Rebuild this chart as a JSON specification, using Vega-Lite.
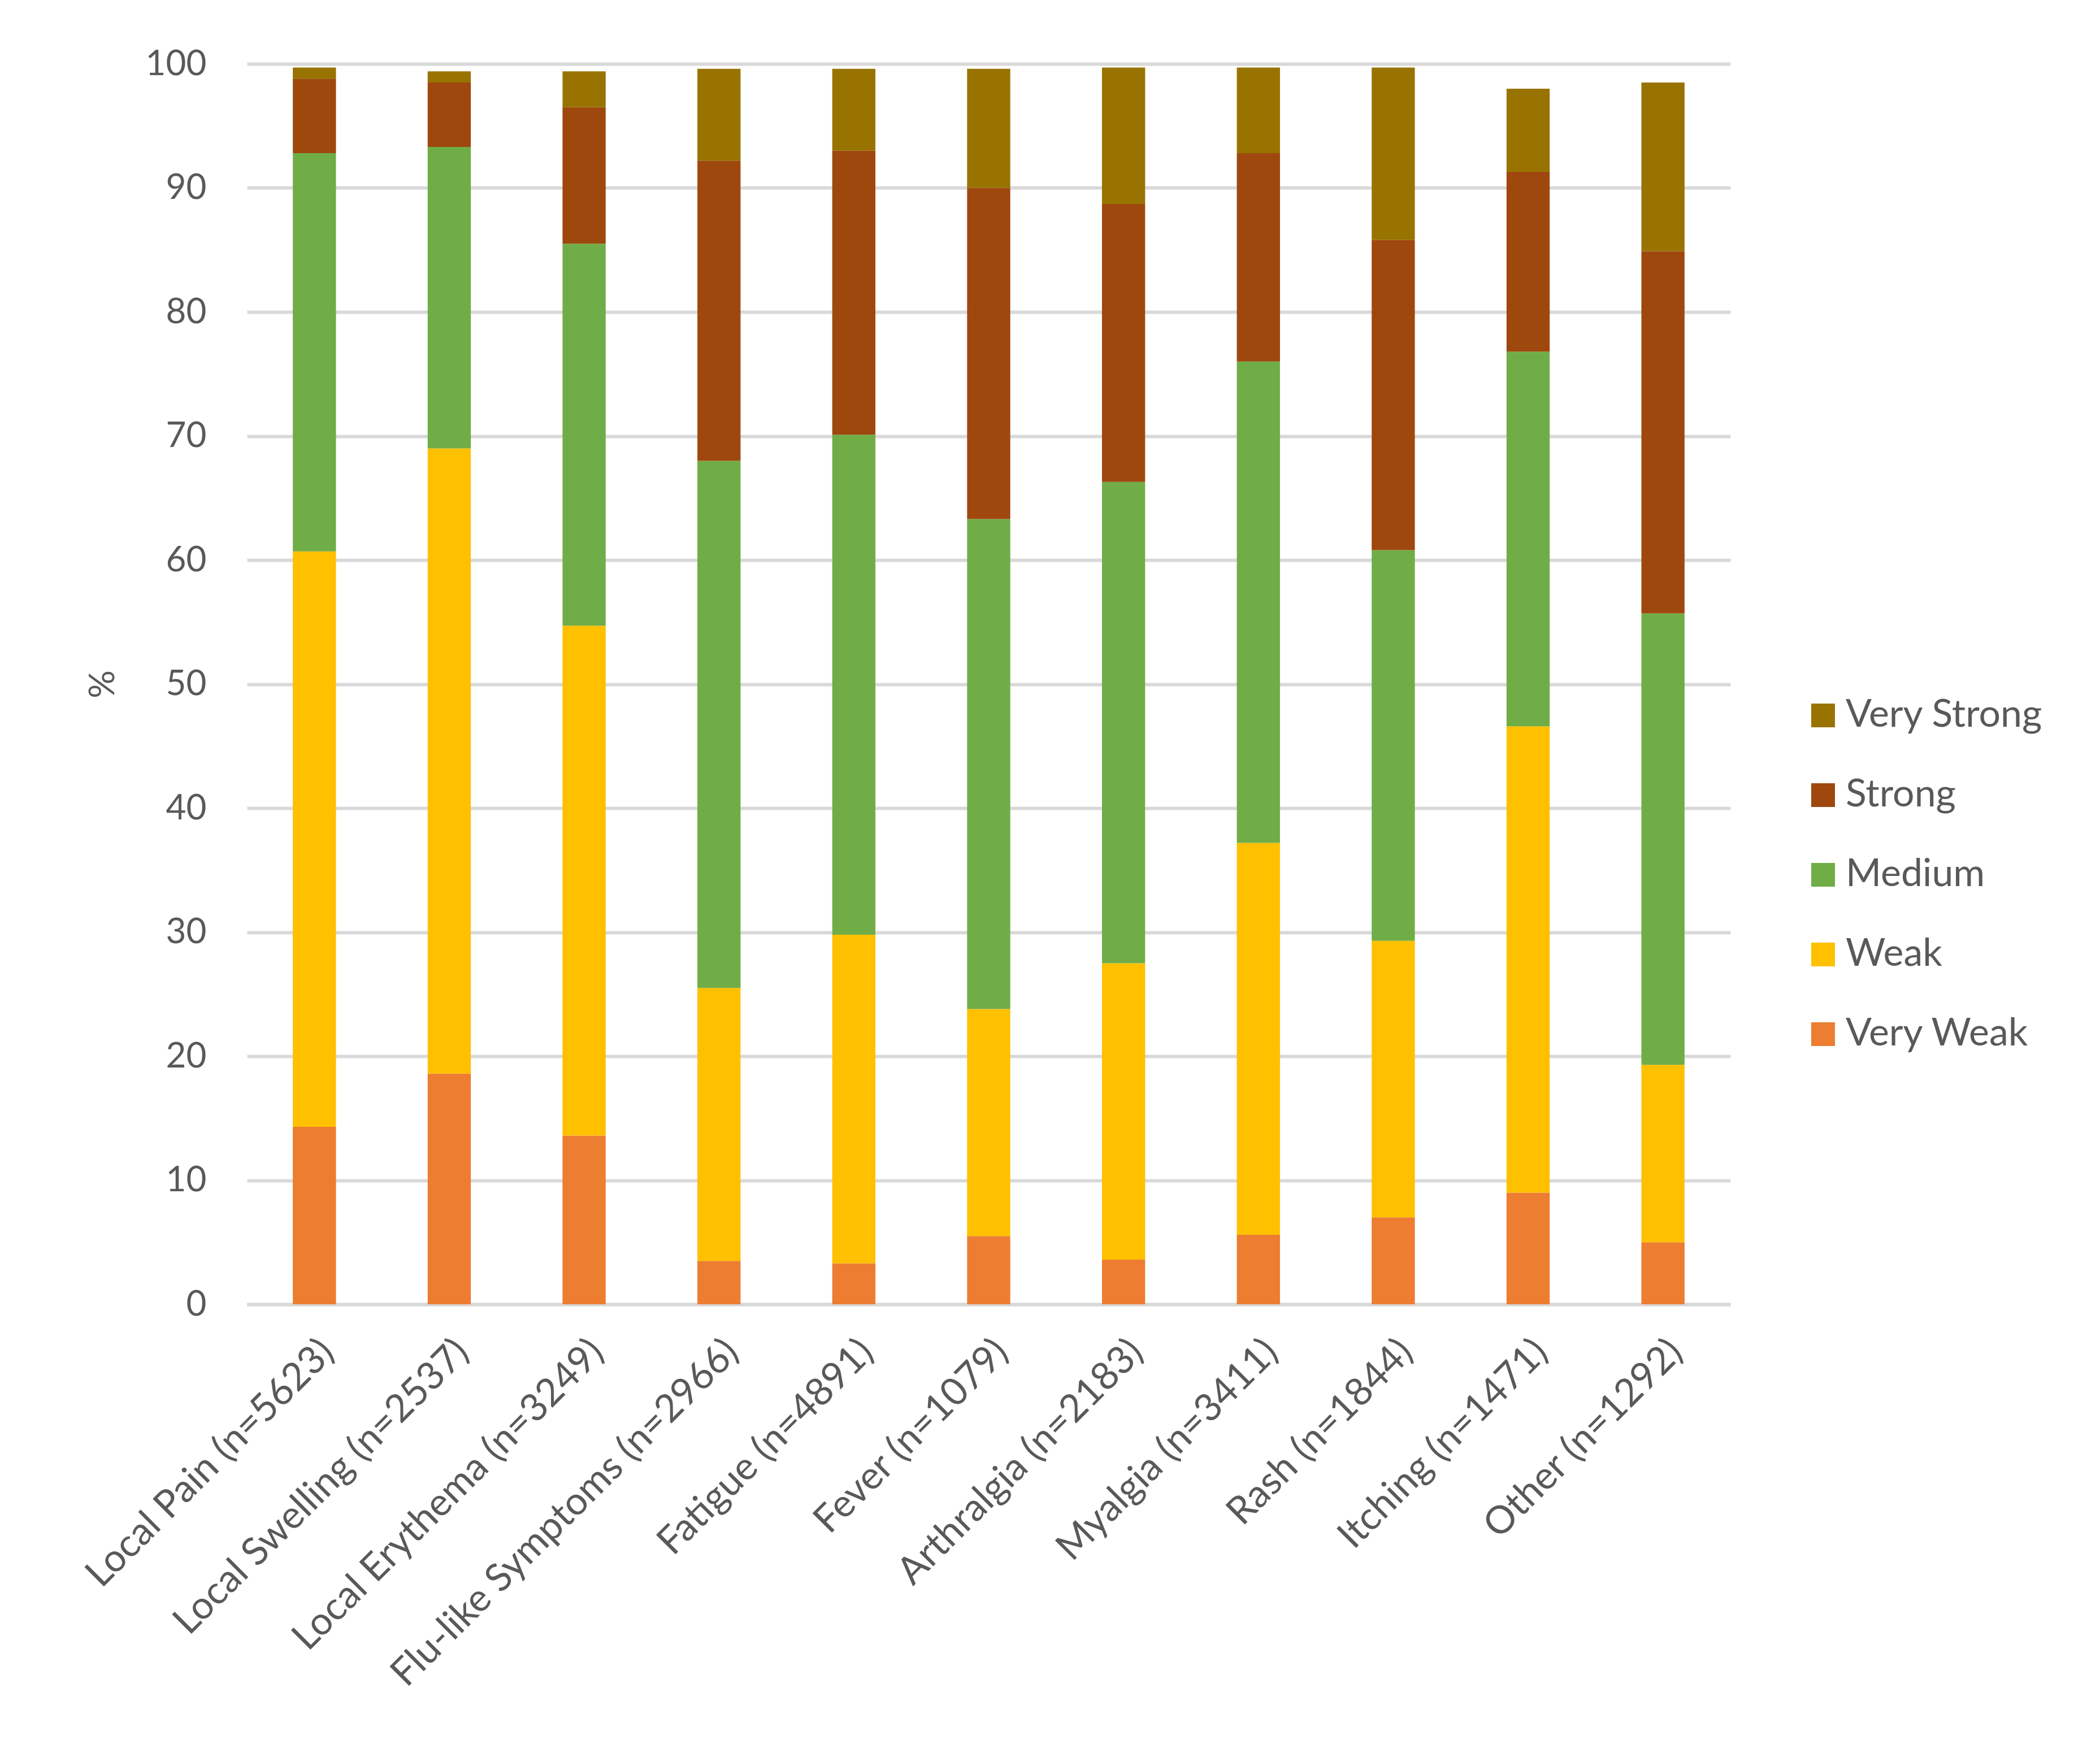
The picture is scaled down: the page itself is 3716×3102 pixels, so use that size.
{
  "$schema": "https://vega.github.io/schema/vega-lite/v6.json",
  "width": 2625,
  "height": 2195,
  "autosize": {"type": "none"},
  "padding": {"left": 437, "top": 113, "right": 654, "bottom": 794},
  "background": "white",
  "config": {
    "font": "Lato",
    "view": {"stroke": null},
    "axis": {"labelColor": "#595959", "titleColor": "#595959", "labelFontSize": 62, "titleFontSize": 62, "titleFontWeight": "normal"}
  },
  "data": {
    "values": [
      {"symptom": "Local Pain (n=5623)", "level": "Very Weak", "rank": 1, "pct": 14.3},
      {"symptom": "Local Pain (n=5623)", "level": "Weak", "rank": 2, "pct": 46.4},
      {"symptom": "Local Pain (n=5623)", "level": "Medium", "rank": 3, "pct": 32.1},
      {"symptom": "Local Pain (n=5623)", "level": "Strong", "rank": 4, "pct": 6.0},
      {"symptom": "Local Pain (n=5623)", "level": "Very Strong", "rank": 5, "pct": 0.9},
      {"symptom": "Local Swelling (n=2537)", "level": "Very Weak", "rank": 1, "pct": 18.6},
      {"symptom": "Local Swelling (n=2537)", "level": "Weak", "rank": 2, "pct": 50.4},
      {"symptom": "Local Swelling (n=2537)", "level": "Medium", "rank": 3, "pct": 24.3},
      {"symptom": "Local Swelling (n=2537)", "level": "Strong", "rank": 4, "pct": 5.2},
      {"symptom": "Local Swelling (n=2537)", "level": "Very Strong", "rank": 5, "pct": 0.9},
      {"symptom": "Local Erythema (n=3249)", "level": "Very Weak", "rank": 1, "pct": 13.6},
      {"symptom": "Local Erythema (n=3249)", "level": "Weak", "rank": 2, "pct": 41.1},
      {"symptom": "Local Erythema (n=3249)", "level": "Medium", "rank": 3, "pct": 30.8},
      {"symptom": "Local Erythema (n=3249)", "level": "Strong", "rank": 4, "pct": 11.0},
      {"symptom": "Local Erythema (n=3249)", "level": "Very Strong", "rank": 5, "pct": 2.9},
      {"symptom": "Flu-like Symptoms (n=2966)", "level": "Very Weak", "rank": 1, "pct": 3.5},
      {"symptom": "Flu-like Symptoms (n=2966)", "level": "Weak", "rank": 2, "pct": 22.0},
      {"symptom": "Flu-like Symptoms (n=2966)", "level": "Medium", "rank": 3, "pct": 42.5},
      {"symptom": "Flu-like Symptoms (n=2966)", "level": "Strong", "rank": 4, "pct": 24.2},
      {"symptom": "Flu-like Symptoms (n=2966)", "level": "Very Strong", "rank": 5, "pct": 7.4},
      {"symptom": "Fatigue (n=4891)", "level": "Very Weak", "rank": 1, "pct": 3.3},
      {"symptom": "Fatigue (n=4891)", "level": "Weak", "rank": 2, "pct": 26.5},
      {"symptom": "Fatigue (n=4891)", "level": "Medium", "rank": 3, "pct": 40.3},
      {"symptom": "Fatigue (n=4891)", "level": "Strong", "rank": 4, "pct": 22.9},
      {"symptom": "Fatigue (n=4891)", "level": "Very Strong", "rank": 5, "pct": 6.6},
      {"symptom": "Fever (n=1079)", "level": "Very Weak", "rank": 1, "pct": 5.5},
      {"symptom": "Fever (n=1079)", "level": "Weak", "rank": 2, "pct": 18.3},
      {"symptom": "Fever (n=1079)", "level": "Medium", "rank": 3, "pct": 39.5},
      {"symptom": "Fever (n=1079)", "level": "Strong", "rank": 4, "pct": 26.7},
      {"symptom": "Fever (n=1079)", "level": "Very Strong", "rank": 5, "pct": 9.6},
      {"symptom": "Arthralgia (n=2183)", "level": "Very Weak", "rank": 1, "pct": 3.6},
      {"symptom": "Arthralgia (n=2183)", "level": "Weak", "rank": 2, "pct": 23.9},
      {"symptom": "Arthralgia (n=2183)", "level": "Medium", "rank": 3, "pct": 38.8},
      {"symptom": "Arthralgia (n=2183)", "level": "Strong", "rank": 4, "pct": 22.4},
      {"symptom": "Arthralgia (n=2183)", "level": "Very Strong", "rank": 5, "pct": 11.0},
      {"symptom": "Myalgia (n=3411)", "level": "Very Weak", "rank": 1, "pct": 5.6},
      {"symptom": "Myalgia (n=3411)", "level": "Weak", "rank": 2, "pct": 31.6},
      {"symptom": "Myalgia (n=3411)", "level": "Medium", "rank": 3, "pct": 38.8},
      {"symptom": "Myalgia (n=3411)", "level": "Strong", "rank": 4, "pct": 16.8},
      {"symptom": "Myalgia (n=3411)", "level": "Very Strong", "rank": 5, "pct": 6.9},
      {"symptom": "Rash (n=1844)", "level": "Very Weak", "rank": 1, "pct": 7.0},
      {"symptom": "Rash (n=1844)", "level": "Weak", "rank": 2, "pct": 22.3},
      {"symptom": "Rash (n=1844)", "level": "Medium", "rank": 3, "pct": 31.5},
      {"symptom": "Rash (n=1844)", "level": "Strong", "rank": 4, "pct": 25.0},
      {"symptom": "Rash (n=1844)", "level": "Very Strong", "rank": 5, "pct": 13.9},
      {"symptom": "Itching (n=1471)", "level": "Very Weak", "rank": 1, "pct": 9.0},
      {"symptom": "Itching (n=1471)", "level": "Weak", "rank": 2, "pct": 37.6},
      {"symptom": "Itching (n=1471)", "level": "Medium", "rank": 3, "pct": 30.2},
      {"symptom": "Itching (n=1471)", "level": "Strong", "rank": 4, "pct": 14.5},
      {"symptom": "Itching (n=1471)", "level": "Very Strong", "rank": 5, "pct": 6.7},
      {"symptom": "Other (n=1292)", "level": "Very Weak", "rank": 1, "pct": 5.0},
      {"symptom": "Other (n=1292)", "level": "Weak", "rank": 2, "pct": 14.3},
      {"symptom": "Other (n=1292)", "level": "Medium", "rank": 3, "pct": 36.4},
      {"symptom": "Other (n=1292)", "level": "Strong", "rank": 4, "pct": 29.2},
      {"symptom": "Other (n=1292)", "level": "Very Strong", "rank": 5, "pct": 13.6}
    ]
  },
  "mark": "bar",
  "encoding": {
    "x": {
      "field": "symptom", "type": "nominal", "sort": null, "title": null,
      "scale": {"paddingInner": 0.68, "paddingOuter": 0.34},
      "axis": {"labelAngle": -45, "labelFontSize": 68, "labelPadding": 50, "ticks": false, "domainColor": "#d9d9d9", "domainWidth": 6, "labelLimit": 1000}
    },
    "y": {
      "field": "pct", "type": "quantitative", "stack": "zero", "title": "%",
      "scale": {"domain": [0, 100], "nice": false},
      "axis": {"values": [0, 10, 20, 30, 40, 50, 60, 70, 80, 90, 100], "domain": false, "ticks": false, "gridColor": "#d9d9d9", "gridWidth": 6, "labelPadding": 72, "titlePadding": 43}
    },
    "order": {"field": "rank", "type": "quantitative", "sort": "ascending"},
    "color": {
      "field": "level", "type": "nominal", "title": null,
      "sort": ["Very Strong", "Strong", "Medium", "Weak", "Very Weak"],
      "scale": {
        "domain": ["Very Strong", "Strong", "Medium", "Weak", "Very Weak"],
        "range": ["#997300", "#9e480e", "#70ad47", "#ffc000", "#ed7d31"]
      },
      "legend": {
        "orient": "none", "legendX": 2755, "legendY": 1119, "padding": 0,
        "symbolType": "square", "symbolSize": 1764, "symbolStrokeWidth": 0, "symbolOpacity": 1,
        "labelFontSize": 68, "labelColor": "#595959", "labelOffset": 6, "rowPadding": 73, "labelLimit": 1000
      }
    }
  }
}
